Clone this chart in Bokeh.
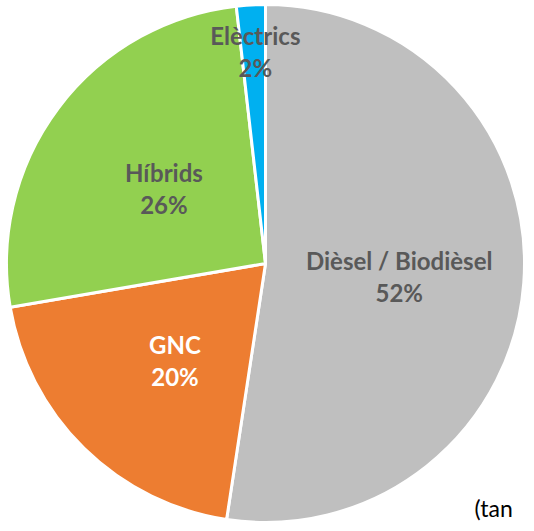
import math
from bokeh.plotting import figure
from bokeh.models import Range1d, Label, ColumnDataSource
from bokeh.core.properties import value
from bokeh.embed import file_html
from bokeh.resources import INLINE

# Data
categories = ["Dièsel / Biodièsel", "GNC", "Híbrids", "Elèctrics"]
shares = [52.4, 19.9, 25.9, 1.8]
pct_labels = [f"{round(v)}%" for v in shares]
colors = ["#BFBFBF", "#ED7D31", "#92D050", "#00B0F0"]
label_colors = ["#595959", "#FFFFFF", "#595959", "#595959"]
label_radius_frac = [0.51, 0.51, 0.50, 0.83]

W, H = 526, 523
p = figure(width=W, height=H, output_backend="svg", toolbar_location=None,
           x_range=Range1d(0, W), y_range=Range1d(-H, 0),
           min_border=0, outline_line_color=None, background_fill_color="white",
           border_fill_color="white")
p.axis.visible = False
p.grid.visible = False

cx, cy, R = 265, -263, 259
total = sum(shares)
starts, ends, lx, ly = [], [], [], []
cum = 0.0
for v, fr in zip(shares, label_radius_frac):
    a0 = cum / total
    cum += v
    a1 = cum / total
    starts.append(math.pi / 2 - a0 * 2 * math.pi)
    ends.append(math.pi / 2 - a1 * 2 * math.pi)
    mid = (a0 + a1) / 2 * 2 * math.pi
    lx.append(cx + fr * R * math.sin(mid) + 2)
    ly.append(cy + fr * R * math.cos(mid))

src = ColumnDataSource(dict(start=starts, end=ends, color=colors, cat=categories,
                            pct=pct_labels, lx=lx, ly1=[y + 13 for y in ly],
                            ly2=[y - 19 for y in ly], tc=label_colors))
p.wedge(x=cx, y=cy, radius=R, start_angle="start", end_angle="end",
        direction="clock", fill_color="color", line_color="white",
        line_width=3, source=src)

p.text(x="lx", y="ly1", text="cat", text_color="tc", text_align="center",
       text_baseline="middle", text_font=value("Lato"), text_font_style="bold",
       text_font_size="24px", source=src)
p.text(x="lx", y="ly2", text="pct", text_color="tc", text_align="center",
       text_baseline="middle", text_font=value("Lato"), text_font_style="bold",
       text_font_size="24px", source=src)

p.add_layout(Label(x=474, y=-507, text="(tan", text_font="Lato",
                   text_font_size="23px", text_color="#000000",
                   text_baseline="alphabetic", text_align="left"))

open("out.html", "w").write(file_html(p, INLINE))
